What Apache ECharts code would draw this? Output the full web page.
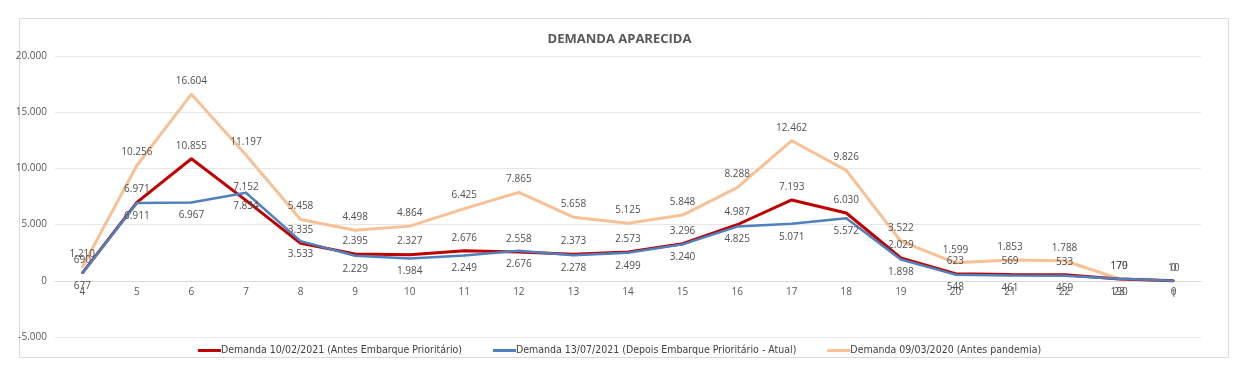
<!DOCTYPE html>
<html><head><meta charset="utf-8">
<script src="https://cdn.jsdelivr.net/npm/echarts@6/dist/echarts.min.js"></script>
<style>html,body{margin:0;padding:0;background:#fff}#c{width:1239px;height:373px}</style>
</head><body><div id="c"></div>
<script>
const categories = ['4','5','6','7','8','9','10','11','12','13','14','15','16','17','18','19','20','21','22','23','0'];
const red2021Feb = [690,6971,10855,7152,3335,2395,2327,2676,2558,2373,2573,3296,4987,7193,6030,2029,623,569,533,170,0];
const blue2021Jul = [677,6911,6967,7834,3533,2229,1984,2249,2676,2278,2499,3240,4825,5071,5572,1898,548,461,459,190,1];
const orange2020 = [1210,10256,16604,11197,5458,4498,4864,6425,7865,5658,5125,5848,8288,12462,9826,3522,1599,1853,1788,179,10];
const seriesNames = ['Demanda 10/02/2021 (Antes Embarque Prioritário)','Demanda 13/07/2021 (Depois Embarque Prioritário - Atual)','Demanda 09/03/2020 (Antes pandemia)'];
const yTicks = [-5000,0,5000,10000,15000,20000];

const fmt = v => { const s = Math.abs(v).toString().replace(/\B(?=(\d{3})+(?!\d))/g,'.'); return (v<0?'-':'')+s; };
const font = '"Open Sans", "Liberation Sans", sans-serif';
const mkLabel = pos => ({show:true, position:pos, fontSize:10, color:'#505050', fontFamily:font, formatter:p=>fmt(p.value), distance:7});
const colors = ['#C00000','#4F81BD','#F8C195'];

const chart = echarts.init(document.getElementById('c'), null, {renderer:'canvas'});
chart.setOption({
  animation:false,
  backgroundColor:'#fff',
  color:colors,
  title:{text:'DEMANDA APARECIDA', left:'center', top:28, textStyle:{fontSize:13, fontWeight:'bold', color:'#595959', fontFamily:font}},
  graphic:[{type:'rect', shape:{x:19.5,y:18.5,width:1209,height:339}, style:{fill:'none', stroke:'#d9d9d9', lineWidth:1}, silent:true, z:-1}],
  legend:{bottom:12, left:'center', itemWidth:23, itemHeight:3, itemGap:31, icon:'rect',
    textStyle:{fontSize:10.5, color:'#404040', fontFamily:'"DejaVu Sans Condensed", "Liberation Sans Narrow", sans-serif', padding:[0,0,0,-5]},
    data:seriesNames},
  grid:{left:55, right:38, top:56, bottom:36},
  xAxis:{type:'category', data:categories, boundaryGap:true, offset:-56,
    axisLine:{onZero:false, lineStyle:{color:'#d9d9d9'}}, axisTick:{show:false},
    axisLabel:{fontSize:10, color:'#595959', fontFamily:font, margin:6}},
  yAxis:{type:'value', min:yTicks[0], max:yTicks[yTicks.length-1], interval:5000,
    axisLine:{show:false}, axisTick:{show:false},
    splitLine:{lineStyle:{color:'#e6e6e6'}},
    axisLabel:{fontSize:10, color:'#595959', fontFamily:font, formatter:v=>fmt(v), margin:8}},
  series:[
    {name:seriesNames[0], type:'line', data:red2021Feb, symbol:'circle', symbolSize:2, showSymbol:true, z:3,
      lineStyle:{color:colors[0], width:3}, itemStyle:{color:colors[0]},
      label:mkLabel('top')},
    {name:seriesNames[1], type:'line', data:blue2021Jul, symbol:'circle', symbolSize:2, showSymbol:true, z:4,
      lineStyle:{color:colors[1], width:2.5}, itemStyle:{color:colors[1]},
      label:mkLabel('bottom')},
    {name:seriesNames[2], type:'line', data:orange2020, symbol:'circle', symbolSize:2, showSymbol:true, z:2,
      lineStyle:{color:colors[2], width:3}, itemStyle:{color:colors[2]},
      label:mkLabel('top')}
  ]
});
</script></body></html>
